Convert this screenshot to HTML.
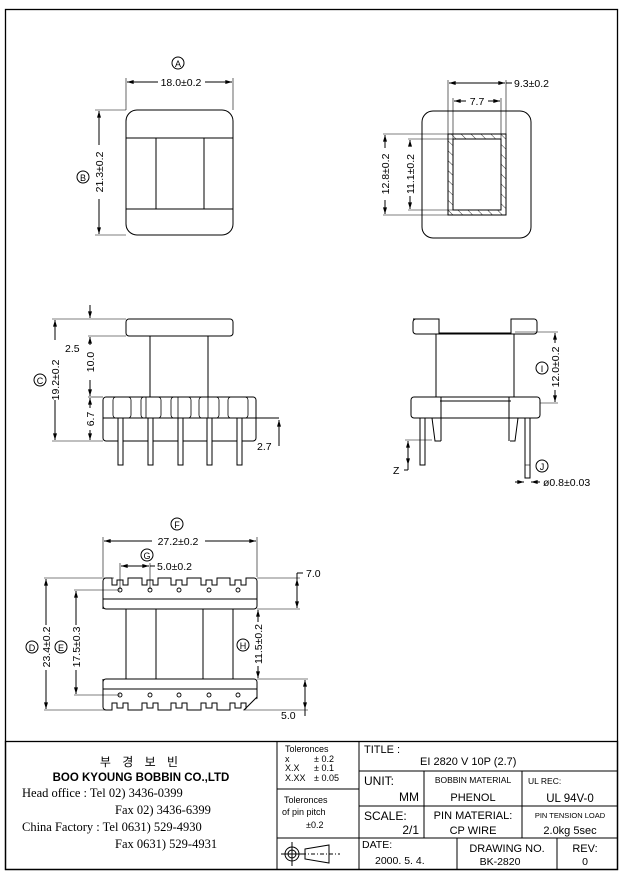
<!DOCTYPE html>
<html><head><meta charset="utf-8"><style>
html,body{margin:0;padding:0;background:#fff}
svg{display:block}
text{font-family:"Liberation Sans","Noto Sans CJK KR",sans-serif;fill:#000}
.s{font-family:"Liberation Serif","Noto Serif CJK SC",serif}
</style></head><body>
<svg width="622" height="877" viewBox="0 0 622 877" xmlns="http://www.w3.org/2000/svg">
<defs>
<marker id="a" viewBox="0 0 10 6" refX="10" refY="3" markerWidth="8" markerHeight="4" orient="auto-start-reverse"><path d="M0,0 L10,3 L0,6z" fill="#000"/></marker>
<pattern id="h" width="7" height="7" patternUnits="userSpaceOnUse" patternTransform="rotate(-45)"><line x1="0" y1="0" x2="0" y2="7" stroke="#000" stroke-width="0.8"/></pattern>
<path id="fl" d="M103,609 V581 a3,3 0 0 1 3,-3 H112 V585 H117 V580 H123 V585 H128 V578 H142 V585 H147 V580 H153 V585 H158 V578 H171 V585 H176 V580 H182 V585 H187 V578 H201 V585 H206 V580 H212 V585 H217 V578 H230 V585 H235 V580 H241 V585 H246 V578 H254 a3,3 0 0 1 3,3 V606 a3,3 0 0 1 -3,3 H106 a3,3 0 0 1 -3,-3z"/>
</defs>
<g fill="none" stroke="#000" stroke-width="1">
<rect x="5.5" y="9.5" width="612" height="860" stroke-width="1.3"/>
<!-- top left view -->
<rect x="126" y="110" width="107" height="125" rx="11"/>
<line x1="126" y1="138" x2="233" y2="138"/><line x1="126" y1="209" x2="233" y2="209"/>
<line x1="156" y1="138" x2="156" y2="209"/><line x1="204" y1="138" x2="204" y2="209"/>
<line x1="126" y1="78" x2="126" y2="110" stroke-width="0.6"/><line x1="233" y1="78" x2="233" y2="110" stroke-width="0.6"/>
<line x1="127" y1="82" x2="158" y2="82" marker-start="url(#a)"/><line x1="205" y1="82" x2="232" y2="82" marker-end="url(#a)"/>
<line x1="95" y1="110" x2="126" y2="110" stroke-width="0.6"/><line x1="95" y1="235" x2="126" y2="235" stroke-width="0.6"/>
<line x1="99" y1="111" x2="99" y2="145" marker-start="url(#a)"/><line x1="99" y1="199" x2="99" y2="234" marker-end="url(#a)"/>
<circle cx="178" cy="63" r="6"/><circle cx="83" cy="177" r="6"/>
<!-- top right view -->
<rect x="422" y="111" width="109" height="127" rx="11"/>
<rect x="448" y="134" width="58" height="81" fill="url(#h)"/>
<rect x="453" y="139" width="48" height="71" fill="#fff"/>
<line x1="448" y1="80" x2="448" y2="134" stroke-width="0.6"/><line x1="506" y1="80" x2="506" y2="134" stroke-width="0.6"/>
<line x1="453" y1="98" x2="453" y2="139" stroke-width="0.6"/><line x1="501" y1="98" x2="501" y2="139" stroke-width="0.6"/>
<line x1="449" y1="83" x2="505" y2="83" marker-start="url(#a)" marker-end="url(#a)"/><line x1="506" y1="83" x2="512" y2="83"/>
<line x1="454" y1="101" x2="466" y2="101" marker-start="url(#a)"/><line x1="488" y1="101" x2="500" y2="101" marker-end="url(#a)"/>
<line x1="383" y1="134" x2="448" y2="134" stroke-width="0.6"/><line x1="383" y1="215" x2="448" y2="215" stroke-width="0.6"/>
<line x1="408" y1="139" x2="453" y2="139" stroke-width="0.6"/><line x1="408" y1="210" x2="453" y2="210" stroke-width="0.6"/>
<line x1="385" y1="135" x2="385" y2="148" marker-start="url(#a)"/><line x1="385" y1="200" x2="385" y2="214" marker-end="url(#a)"/>
<line x1="410" y1="140" x2="410" y2="146" marker-start="url(#a)"/><line x1="410" y1="196" x2="410" y2="209" marker-end="url(#a)"/>
<!-- side left view -->
<rect x="126" y="319" width="107" height="17" rx="3"/>
<line x1="150" y1="336" x2="150" y2="397"/><line x1="208" y1="336" x2="208" y2="397"/>
<rect x="103" y="397" width="153" height="44" rx="3"/>
<line x1="103" y1="418" x2="279" y2="418"/>
<g stroke-width="0.8">
<rect x="113" y="397" width="18" height="21" rx="3"/><rect x="141" y="397" width="20" height="21" rx="3"/>
<rect x="171" y="397" width="20" height="21" rx="3"/><rect x="199" y="397" width="20" height="21" rx="3"/>
<rect x="228" y="397" width="20" height="21" rx="3"/>
<line x1="146" y1="397" x2="146" y2="418"/><line x1="178" y1="397" x2="178" y2="418"/><line x1="208" y1="397" x2="208" y2="418"/>
</g>
<rect x="118" y="418" width="5" height="47" fill="#fff"/><rect x="148" y="418" width="5" height="47" fill="#fff"/>
<rect x="178" y="418" width="5" height="47" fill="#fff"/><rect x="207" y="418" width="5" height="47" fill="#fff"/>
<rect x="237" y="418" width="5" height="47" fill="#fff"/>
<line x1="52" y1="319" x2="126" y2="319" stroke-width="0.6"/><line x1="52" y1="441" x2="103" y2="441" stroke-width="0.6"/>
<line x1="88" y1="336" x2="126" y2="336" stroke-width="0.6"/><line x1="88" y1="397" x2="103" y2="397" stroke-width="0.6"/>
<line x1="55" y1="320" x2="55" y2="340" marker-start="url(#a)"/><line x1="55" y1="400" x2="55" y2="440" marker-end="url(#a)"/>
<line x1="90" y1="305" x2="90" y2="318" marker-end="url(#a)"/>
<line x1="90" y1="337" x2="90" y2="345" marker-start="url(#a)"/><line x1="90" y1="380" x2="90" y2="396" marker-end="url(#a)"/>
<line x1="90" y1="398" x2="90" y2="408" marker-start="url(#a)"/><line x1="90" y1="430" x2="90" y2="440" marker-end="url(#a)"/>
<line x1="279" y1="420" x2="279" y2="436" marker-start="url(#a)"/><line x1="279" y1="436" x2="279" y2="446"/>
<circle cx="40" cy="380" r="6"/>
<!-- side right view -->
<path d="M413,319 h26 v14 h72 v-14 h23 a3,3 0 0 1 3,3 v9 a3,3 0 0 1 -3,3 h-118 a3,3 0 0 1 -3,-3 v-9 a3,3 0 0 1 3,-3z"/>
<line x1="436" y1="334" x2="436" y2="397"/><line x1="514" y1="334" x2="514" y2="397"/>
<rect x="411" y="397" width="129" height="21" rx="3"/>
<line x1="440" y1="401" x2="511" y2="401"/>
<line x1="441" y1="397" x2="441" y2="441"/><line x1="509" y1="397" x2="509" y2="441"/>
<path d="M432,418 l3,23 h6"/><path d="M510,441 h5 l3,-23"/>
<rect x="420" y="418" width="5" height="47" fill="#fff"/><rect x="525" y="418" width="5" height="60" fill="#fff"/>
<line x1="525" y1="465" x2="530" y2="465" stroke-width="0.6"/>
<line x1="515" y1="332" x2="558" y2="332" stroke-width="0.6"/><line x1="540" y1="403" x2="558" y2="403" stroke-width="0.6"/>
<line x1="555" y1="333" x2="555" y2="343" marker-start="url(#a)"/><line x1="555" y1="390" x2="555" y2="402" marker-end="url(#a)"/>
<line x1="405" y1="440" x2="432" y2="440" stroke-width="0.6"/>
<line x1="408" y1="441" x2="408" y2="465" marker-start="url(#a)" marker-end="url(#a)"/>
<line x1="408" y1="465" x2="408" y2="470"/><line x1="404" y1="470" x2="408" y2="470"/>
<line x1="515" y1="482" x2="524" y2="482" marker-end="url(#a)"/><line x1="540" y1="482" x2="531" y2="482" marker-end="url(#a)"/>
<circle cx="542" cy="368" r="6"/><circle cx="542" cy="466" r="6"/>
<!-- bottom view -->
<use href="#fl"/>
<line x1="103" y1="599" x2="257" y2="599"/>
<line x1="126" y1="609" x2="126" y2="679"/><line x1="156" y1="609" x2="156" y2="679"/>
<line x1="203" y1="609" x2="203" y2="679"/><line x1="233" y1="609" x2="233" y2="679"/>
<use href="#fl" transform="translate(0,1288) scale(1,-1)"/>
<path d="M244,711 L258,698 V712 Z" fill="#fff" stroke="none"/>
<line x1="244" y1="710" x2="257" y2="697"/>
<line x1="103" y1="689" x2="257" y2="689"/>
<g stroke-width="0.9">
<circle cx="120" cy="590" r="2"/><circle cx="150" cy="590" r="2"/><circle cx="179" cy="590" r="2"/><circle cx="209" cy="590" r="2"/><circle cx="238" cy="590" r="2"/>
<circle cx="120" cy="695" r="2"/><circle cx="150" cy="695" r="2"/><circle cx="179" cy="695" r="2"/><circle cx="209" cy="695" r="2"/><circle cx="238" cy="695" r="2"/>
</g>
<line x1="103" y1="537" x2="103" y2="577" stroke-width="0.6"/><line x1="257" y1="537" x2="257" y2="577" stroke-width="0.6"/>
<line x1="104" y1="541" x2="152" y2="541" marker-start="url(#a)"/><line x1="205" y1="541" x2="256" y2="541" marker-end="url(#a)"/>
<line x1="120" y1="563" x2="120" y2="589" stroke-width="0.6"/><line x1="150" y1="563" x2="150" y2="589" stroke-width="0.6"/>
<line x1="121" y1="566" x2="149" y2="566" marker-start="url(#a)" marker-end="url(#a)"/><line x1="150" y1="566" x2="155" y2="566"/>
<line x1="44" y1="578" x2="114" y2="578" stroke-width="0.6"/><line x1="44" y1="710" x2="110" y2="710" stroke-width="0.6"/>
<line x1="46" y1="579" x2="46" y2="625" marker-start="url(#a)"/><line x1="46" y1="670" x2="46" y2="709" marker-end="url(#a)"/>
<line x1="74" y1="590" x2="120" y2="590" stroke-width="0.6"/><line x1="74" y1="695" x2="120" y2="695" stroke-width="0.6"/>
<line x1="76" y1="591" x2="76" y2="625" marker-start="url(#a)"/><line x1="76" y1="670" x2="76" y2="694" marker-end="url(#a)"/>
<line x1="257" y1="578" x2="300" y2="578" stroke-width="0.6"/><line x1="257" y1="609" x2="300" y2="609" stroke-width="0.6"/>
<line x1="297" y1="579" x2="297" y2="608" marker-start="url(#a)" marker-end="url(#a)"/>
<line x1="297" y1="573" x2="303" y2="573"/><line x1="297" y1="573" x2="297" y2="579"/>
<line x1="258" y1="610" x2="258" y2="622" marker-start="url(#a)"/><line x1="258" y1="666" x2="258" y2="678" marker-end="url(#a)"/>
<line x1="257" y1="679" x2="308" y2="679" stroke-width="0.6"/><line x1="243" y1="710" x2="308" y2="710" stroke-width="0.6"/>
<line x1="305" y1="680" x2="305" y2="709" marker-start="url(#a)" marker-end="url(#a)"/><line x1="305" y1="709" x2="305" y2="716"/>
<circle cx="177" cy="524" r="6"/><circle cx="147" cy="555" r="6"/><circle cx="32" cy="647" r="6"/><circle cx="61" cy="647" r="6"/><circle cx="243" cy="645" r="6"/>
<!-- title block -->
<rect x="5.5" y="741.5" width="612" height="128" stroke-width="1.3"/>
<line x1="277" y1="741" x2="277" y2="869"/><line x1="359" y1="741" x2="359" y2="869"/>
<line x1="277" y1="789" x2="359" y2="789"/><line x1="277" y1="838" x2="359" y2="838"/>
<line x1="359" y1="771" x2="618" y2="771"/><line x1="359" y1="806" x2="618" y2="806"/><line x1="359" y1="838" x2="618" y2="838"/>
<line x1="424" y1="771" x2="424" y2="838"/><line x1="522" y1="771" x2="522" y2="838"/>
<line x1="457" y1="838" x2="457" y2="869"/><line x1="557" y1="838" x2="557" y2="869"/>
<circle cx="292" cy="854" r="7"/><circle cx="292" cy="854" r="4"/>
<line x1="281" y1="854" x2="303" y2="854"/><line x1="292" y1="842" x2="292" y2="866"/>
<path d="M305,849 l24,-4 v18 l-24,-4z"/><line x1="302" y1="854" x2="340" y2="854" stroke-dasharray="4,2,1,2"/>
</g>
<g font-size="10.5">
<text x="178" y="67" font-size="9" text-anchor="middle">A</text>
<text x="181" y="86" text-anchor="middle">18.0±0.2</text>
<text x="83" y="181" font-size="9" text-anchor="middle">B</text>
<text transform="translate(103,172) rotate(-90)" text-anchor="middle">21.3±0.2</text>
<text x="514" y="87">9.3±0.2</text>
<text x="477" y="105" text-anchor="middle">7.7</text>
<text transform="translate(389,174) rotate(-90)" text-anchor="middle">12.8±0.2</text>
<text transform="translate(414,174) rotate(-90)" text-anchor="middle">11.1±0.2</text>
<text x="40" y="384" font-size="9" text-anchor="middle">C</text>
<text transform="translate(59,380) rotate(-90)" text-anchor="middle">19.2±0.2</text>
<text x="65" y="352">2.5</text>
<text transform="translate(94,362) rotate(-90)" text-anchor="middle">10.0</text>
<text transform="translate(94,419) rotate(-90)" text-anchor="middle">6.7</text>
<text x="257" y="450">2.7</text>
<text x="542" y="372" font-size="9" text-anchor="middle">I</text>
<text transform="translate(559,367) rotate(-90)" text-anchor="middle">12.0±0.2</text>
<text x="542" y="470" font-size="9" text-anchor="middle">J</text>
<text x="543" y="486">ø0.8±0.03</text>
<text x="393" y="474">Z</text>
<text x="177" y="528" font-size="9" text-anchor="middle">F</text>
<text x="178" y="545" text-anchor="middle">27.2±0.2</text>
<text x="147" y="559" font-size="9" text-anchor="middle">G</text>
<text x="157" y="570">5.0±0.2</text>
<text x="306" y="577">7.0</text>
<text x="32" y="651" font-size="9" text-anchor="middle">D</text>
<text transform="translate(50,647) rotate(-90)" text-anchor="middle">23.4±0.2</text>
<text x="61" y="651" font-size="9" text-anchor="middle">E</text>
<text transform="translate(80,647) rotate(-90)" text-anchor="middle">17.5±0.3</text>
<text x="243" y="649" font-size="9" text-anchor="middle">H</text>
<text transform="translate(262,644) rotate(-90)" text-anchor="middle">11.5±0.2</text>
<text x="281" y="719">5.0</text>
</g>
<g>
<text x="141" y="766" font-size="12" text-anchor="middle" letter-spacing="4">부 경 보 빈</text>
<text x="141" y="781" font-size="11.5" text-anchor="middle" font-weight="bold">BOO KYOUNG BOBBIN CO.,LTD</text>
<g class="s" font-size="12.5">
<text class="s" x="22" y="797">Head office   : Tel  02) 3436-0399</text>
<text class="s" x="115" y="814">Fax  02) 3436-6399</text>
<text class="s" x="22" y="831">China Factory : Tel 0631) 529-4930</text>
<text class="s" x="115" y="848">Fax 0631) 529-4931</text>
</g>
<g font-size="9">
<text x="285" y="752">Toleronces</text>
<text x="285" y="762">x</text><text x="314" y="762">± 0.2</text>
<text x="285" y="771">X.X</text><text x="314" y="771">± 0.1</text>
<text x="285" y="781">X.XX</text><text x="314" y="781">± 0.05</text>
<text x="284" y="803">Toleronces</text>
<text x="282" y="815">of pin pitch</text>
<text x="306" y="828">±0.2</text>
</g>
<text x="364" y="753" font-size="11">TITLE :</text>
<text x="420" y="765" font-size="11">EI 2820 V 10P (2.7)</text>
<text x="364" y="785" font-size="12">UNIT:</text>
<text x="419" y="801" font-size="12" text-anchor="end">MM</text>
<text x="473" y="783" font-size="8.5" text-anchor="middle">BOBBIN MATERIAL</text>
<text x="473" y="801" font-size="11" text-anchor="middle">PHENOL</text>
<text x="528" y="784" font-size="8.5">UL REC:</text>
<text x="570" y="802" font-size="11.5" text-anchor="middle">UL 94V-0</text>
<text x="364" y="820" font-size="12">SCALE:</text>
<text x="419" y="834" font-size="12" text-anchor="end">2/1</text>
<text x="473" y="819" font-size="11" text-anchor="middle">PIN MATERIAL:</text>
<text x="473" y="834" font-size="11" text-anchor="middle">CP WIRE</text>
<text x="570" y="818" font-size="7.5" text-anchor="middle">PIN TENSION LOAD</text>
<text x="570" y="834" font-size="11" text-anchor="middle">2.0kg 5sec</text>
<text x="362" y="848" font-size="10.5">DATE:</text>
<text x="375" y="864" font-size="10.5">2000. 5. 4.</text>
<text x="507" y="852" font-size="11" text-anchor="middle">DRAWING NO.</text>
<text x="500" y="865" font-size="10.5" text-anchor="middle">BK-2820</text>
<text x="585" y="852" font-size="11" text-anchor="middle">REV:</text>
<text x="585" y="865" font-size="10.5" text-anchor="middle">0</text>
</g>
</svg>
</body></html>
